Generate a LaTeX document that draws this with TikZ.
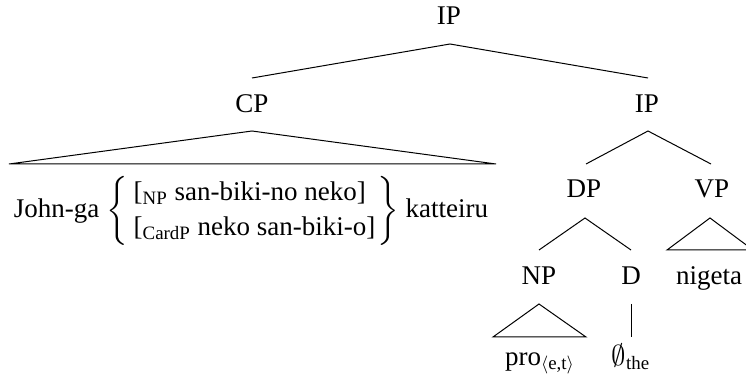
\documentclass[tikz,border=0pt]{standalone}
\usepackage{amsmath}
\usepackage{fontspec}
\setmainfont{Liberation Serif}
\begin{document}
\begin{tikzpicture}[x=0.5pt,y=-0.5pt,line width=0.5pt,
  lbl/.style={anchor=base,inner sep=0pt,font=\fontsize{13.5}{14.5}\selectfont},
  edge/.style={draw=black,line width=0.5pt}]
\useasboundingbox (0,0) rectangle (746,385);
\clip (0,0) rectangle (746,385);
% labels
\node[lbl] (ip) at (449,25) {IP};
\node[lbl] (cp) at (252,113) {CP};
\node[lbl] (ip2) at (647,113) {IP};
\node[lbl] (dp) at (584,198) {DP};
\node[lbl] (vp) at (712,198) {VP};
\node[lbl] (np) at (539,285) {NP};
\node[lbl] (d) at (631,285) {D};
\node[lbl] (nigeta) at (709,285) {nigeta};
\node[lbl] (pro) at (540,365) {pro\textsubscript{$\langle$e,t$\rangle$}};
\node[lbl] (empty) at (631,365) {$\emptyset$\textsubscript{the}};
\node[lbl] (john) at (251,218) {\renewcommand{\arraystretch}{1.2}John-ga $\left\{\begin{array}{@{\hspace{3pt}}l@{\hspace{1pt}}}
\mbox{[\textsubscript{NP} san-biki-no neko]}\\
\mbox{[\textsubscript{CardP} neko san-biki-o]}
\end{array}\right\}$ katteiru};
% branch points
\coordinate (ip-b) at (450,44);
\coordinate (cp-t) at (252,78);
\coordinate (ip2-t) at (648,78);
\coordinate (ip2-b) at (648,131);
\coordinate (dp-t) at (586,164);
\coordinate (vp-t) at (711,164);
\coordinate (cp-b) at (252,131);
\coordinate (cp-l) at (9,164);
\coordinate (cp-r) at (496,164);
\coordinate (dp-b) at (585,218);
\coordinate (np-t) at (539,250);
\coordinate (d-t) at (631,250);
\coordinate (vp-b) at (710,218);
\coordinate (vp-l) at (667,250);
\coordinate (vp-r) at (753,250);
\coordinate (np-b) at (539,304);
\coordinate (np-l) at (493,337);
\coordinate (np-r) at (586,337);
\coordinate (d-b) at (631,304);
\coordinate (e-t) at (631,337);
% edges
\draw[edge] (cp-t) -- (ip-b) -- (ip2-t);
\draw[edge] (dp-t) -- (ip2-b) -- (vp-t);
\draw[edge] (cp-b) -- (cp-l) -- (cp-r) -- cycle;
\draw[edge] (np-t) -- (dp-b) -- (d-t);
\draw[edge] (vp-b) -- (vp-l) -- (vp-r) -- cycle;
\draw[edge] (np-b) -- (np-l) -- (np-r) -- cycle;
\draw[edge] (d-b) -- (e-t);
\end{tikzpicture}
\end{document}
